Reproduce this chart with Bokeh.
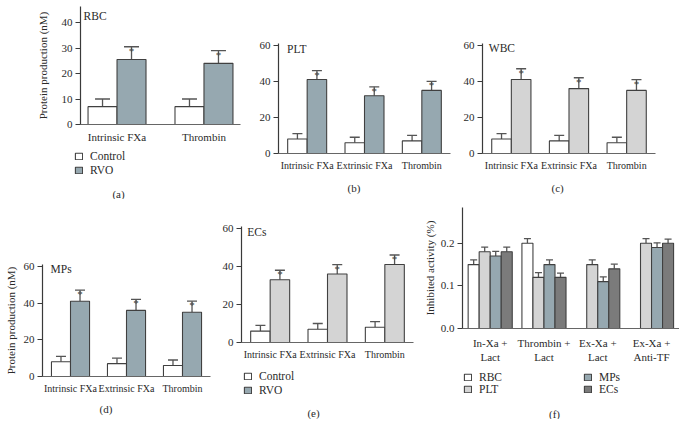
from bokeh.plotting import figure
from bokeh.models import (ColumnDataSource, Whisker, TeeHead, Label, Legend, Title,
                          LegendItem, FixedTicker, NumeralTickFormatter, Range1d)
from bokeh.layouts import column, row
from bokeh.embed import file_html
from bokeh.resources import INLINE
from bokeh.core.properties import value

# ---------------- data ----------------
cats_a = ["Intrinsic FXa", "Thrombin"]
cats3 = ["Intrinsic FXa", "Extrinsic FXa", "Thrombin"]

rbc_ctrl = [7, 7]
rbc_ctrl_err = [3, 3]
rbc_rvo = [25.5, 24]
rbc_rvo_err = [5, 5]

plt_ctrl = [8, 6, 7]
plt_ctrl_err = [3, 3, 3]
plt_rvo = [41, 32, 35]
plt_rvo_err = [5, 5, 5]

wbc_ctrl = [8, 7, 6]
wbc_ctrl_err = [3, 3, 3]
wbc_rvo = [41, 36, 35]
wbc_rvo_err = [6, 6, 6]

mps_ctrl = [8, 7, 6]
mps_ctrl_err = [3, 3, 3]
mps_rvo = [41, 36, 35]
mps_rvo_err = [6, 6, 6]

ecs_ctrl = [6, 7, 8]
ecs_ctrl_err = [3, 3, 3]
ecs_rvo = [33, 36, 41]
ecs_rvo_err = [5, 5, 5]

f_cats = ["In-Xa +\nLact", "Thrombin +\nLact", "Ex-Xa +\nLact", "Ex-Xa +\nAnti-TF"]
f_series = ["RBC", "PLT", "MPs", "ECs"]
f_rbc = [0.15, 0.20, None, None]
f_plt = [0.18, 0.12, 0.15, 0.20]
f_mps = [0.17, 0.15, 0.11, 0.19]
f_ecs = [0.18, 0.12, 0.14, 0.20]
f_rbc_err = [0.011, 0.011, None, None]
f_plt_err = [0.011, 0.011, 0.011, 0.011]
f_mps_err = [0.011, 0.011, 0.011, 0.011]
f_ecs_err = [0.011, 0.010, 0.011, 0.010]

ticks_a = [0, 10, 20, 30, 40]
ticks_60 = [0, 20, 40, 60]
ticks_f = [0.0, 0.1, 0.2]

# ---------------- style ----------------
FONT = "Liberation Serif"
TXT = "#2a2a2a"
WHITE = "#ffffff"
BLUEGRAY = "#96a8b0"
LIGHTGRAY = "#d4d4d4"
DARKGRAY = "#7b7b7b"
OUTLINE = "#404040"
ERRC = "#555555"
NAN = float("nan")


def make_fig(w, h, mb, xr, yr, cat_size="10px"):
    p = figure(width=w, height=h, title=None, x_range=Range1d(*xr), y_range=Range1d(*yr),
               output_backend="svg", toolbar_location=None,
               min_border_left=mb[0], min_border_right=mb[1],
               min_border_top=mb[2], min_border_bottom=mb[3])
    p.outline_line_color = None
    p.grid.visible = False
    for ax in (p.xaxis, p.yaxis):
        ax.axis_line_color = "#3a3a3a"
        ax.axis_line_width = 1.2
        ax.major_tick_line_color = "#3a3a3a"
        ax.major_tick_line_width = 1.1
        ax.minor_tick_out = 0
        ax.minor_tick_in = 0
        ax.major_tick_in = 0
        ax.major_label_text_font = FONT
        ax.major_label_text_color = TXT
        ax.axis_label_text_font = FONT
        ax.axis_label_text_font_style = "normal"
        ax.axis_label_text_color = TXT
        ax.axis_label_text_font_size = "11px"
    p.yaxis.major_tick_out = 5
    p.yaxis.major_label_standoff = 3
    p.yaxis.major_label_text_font_size = "11px"
    p.xaxis.major_tick_out = 0
    p.xaxis.major_label_standoff = 6
    p.xaxis.major_label_text_font_size = cat_size
    p.xaxis.axis_line_color = "#666666"
    return p


def key_fig(w, h, left, top):
    # small axis-free figure that carries a legend and the panel letter
    p = figure(width=w, height=h, title=None, x_axis_location=None, y_axis_location=None,
               x_range=Range1d(0, w - left), y_range=Range1d(0, h - top),
               output_backend="svg", toolbar_location=None,
               min_border_left=left, min_border_right=0, min_border_top=top, min_border_bottom=0)
    p.outline_line_color = None
    p.xgrid.visible = False
    p.ygrid.visible = False
    p.grid.grid_line_color = None
    return p


def set_cats(p, cats):
    p.xaxis.ticker = FixedTicker(ticks=list(range(len(cats))))
    p.xaxis.major_label_overrides = {i: c for i, c in enumerate(cats)}


def bars(p, xs, vals, errs, w, color, cap, star=False):
    pts = [(x, v, e) for x, v, e in zip(xs, vals, errs) if v is not None]
    src = ColumnDataSource(dict(x=[a for a, _, _ in pts], top=[b for _, b, _ in pts],
                                upper=[b + c for _, b, c in pts]))
    r = p.vbar(x="x", top="top", bottom=0, width=w, source=src,
               fill_color=color, line_color=OUTLINE, line_width=1.1)
    p.add_layout(Whisker(source=src, base="x", upper="upper", lower="top",
                         dimension="height", line_color=ERRC, line_width=1.3,
                         upper_head=TeeHead(size=cap, line_color=ERRC, line_width=1.3),
                         lower_head=None))
    if star:
        p.text(x="x", y="upper", text=value("*"), source=src, text_font=value(FONT),
               text_font_size="11px", text_color="#444444", text_align="center",
               text_baseline="alphabetic", y_offset=4)
    return r


def key_legend(k, entries, sp, nrows=None, label_width=20):
    items = []
    for label, col in entries:
        # legend-only renderer: one undrawable (NaN) bar so the key swatch gets its colours
        r = k.vbar(x=[NAN], top=[NAN], width=1, fill_color=col, line_color=OUTLINE, line_width=1.1)
        items.append(LegendItem(label=label, renderers=[r]))
    kw = dict(nrows=nrows) if nrows else {}
    lg = Legend(items=items, location="top_left", orientation="vertical",
                glyph_width=9, glyph_height=8, label_standoff=7, spacing=sp, padding=0,
                margin=0, border_line_color=None, background_fill_alpha=0,
                label_text_font=FONT, label_text_font_size="11.5px", label_text_color=TXT,
                label_height=12, label_width=label_width, label_text_baseline="middle", **kw)
    k.add_layout(lg)


def key_tag(k, text, x, y):
    k.add_layout(Label(x=x, y=y, text=text, text_font=FONT, text_font_size="11px",
                       text_color=TXT, text_align="center", text_baseline="middle"))


def panel_tag(p, text, offset, standoff):
    p.add_layout(Title(text=text, align="left", offset=offset, standoff=standoff,
                       text_font=FONT, text_font_size="11px", text_font_style="normal",
                       text_color=TXT), "below")


def inner_tag(p, text, x, y):
    p.add_layout(Label(x=x, y=y, text=text, text_font=FONT, text_font_size="11.5px",
                       text_color=TXT, text_align="left", text_baseline="middle"))


def two_series(p, cats, ctrl, ctrl_err, rvo, rvo_err, w, rvo_color, cap):
    idx = list(range(len(cats)))
    r1 = bars(p, [i - w / 2 for i in idx], ctrl, ctrl_err, w, WHITE, cap)
    r2 = bars(p, [i + w / 2 for i in idx], rvo, rvo_err, w, rvo_color, cap, star=True)
    set_cats(p, cats)
    return r1, r2


# ---------------- (a) RBC ----------------
pa = make_fig(250, 146, (80, 10, 6, 22), (-0.42, 1.42), (0, 46.3), cat_size="11px")
two_series(pa, cats_a, rbc_ctrl, rbc_ctrl_err, rbc_rvo, rbc_rvo_err, 1 / 3, BLUEGRAY, 15)
pa.yaxis.ticker = FixedTicker(ticks=ticks_a)
pa.yaxis.axis_label = "Protein production (nM)"
pa.yaxis.axis_label_standoff = 10
inner_tag(pa, "RBC", -0.385, 42.7)
ka = key_fig(250, 53, 74, 4)
key_legend(ka, [("Control", WHITE), ("RVO", BLUEGRAY)], 2)
key_tag(ka, "(a)", 44, 6)

# ---------------- (b) PLT ----------------
pb = make_fig(210, 199, (28, 10, 43, 41), (-0.5, 2.5), (0, 61))
two_series(pb, cats3, plt_ctrl, plt_ctrl_err, plt_rvo, plt_rvo_err, 0.34, BLUEGRAY, 10)
pb.yaxis.ticker = FixedTicker(ticks=ticks_60)
panel_tag(pb, "(b)", 69, 12)
inner_tag(pb, "PLT", -0.35, 58)

# ---------------- (c) WBC ----------------
pc = make_fig(219, 199, (22, 24, 43, 41), (-0.5, 2.5), (0, 61))
two_series(pc, cats3, wbc_ctrl, wbc_ctrl_err, wbc_rvo, wbc_rvo_err, 0.34, LIGHTGRAY, 10)
pc.yaxis.ticker = FixedTicker(ticks=ticks_60)
panel_tag(pc, "(c)", 69, 12)
inner_tag(pc, "WBC", -0.39, 58.3)

# ---------------- (d) MPs ----------------
pd_ = make_fig(218, 220, (42, 8, 65, 40), (-0.5, 2.5), (0, 61))
two_series(pd_, cats3, mps_ctrl, mps_ctrl_err, mps_rvo, mps_rvo_err, 0.34, BLUEGRAY, 10)
pd_.yaxis.ticker = FixedTicker(ticks=ticks_60)
pd_.yaxis.axis_label = "Protein production (nM)"
pd_.yaxis.axis_label_standoff = 4
panel_tag(pd_, "(d)", 57, 9)
inner_tag(pd_, "MPs", -0.357, 58.5)

# ---------------- (e) ECs ----------------
pe = make_fig(202, 164, (23, 7, 27, 21), (-0.5, 2.5), (0, 61))
two_series(pe, cats3, ecs_ctrl, ecs_ctrl_err, ecs_rvo, ecs_rvo_err, 0.34, LIGHTGRAY, 10)
pe.yaxis.ticker = FixedTicker(ticks=ticks_60)
inner_tag(pe, "ECs", -0.4, 58)
ke = key_fig(202, 56, 25, 7)
key_legend(ke, [("Control", WHITE), ("RVO", BLUEGRAY)], 2)
key_tag(ke, "(e)", 70, 7)

# ---------------- (f) inhibited activity ----------------
pf = make_fig(259, 166, (40, 0, 8, 35), (-0.515, 3.52), (0, 0.284))
fw = 0.205
f_vals = [f_rbc, f_plt, f_mps, f_ecs]
f_errs = [f_rbc_err, f_plt_err, f_mps_err, f_ecs_err]
f_cols = [WHITE, LIGHTGRAY, BLUEGRAY, DARKGRAY]
for k, (vals, errs, col) in enumerate(zip(f_vals, f_errs, f_cols)):
    xs = [i + (k - 1.5) * fw for i in range(len(f_cats))]
    bars(pf, xs, vals, errs, fw, col, 7)
set_cats(pf, f_cats)
pf.xaxis.major_label_text_font_size = "11px"
pf.xaxis.major_label_standoff = 8
pf.yaxis.ticker = FixedTicker(ticks=ticks_f)
pf.yaxis.formatter = NumeralTickFormatter(format="0.0")
pf.yaxis.axis_label = "Inhibited activity (%)"
pf.yaxis.axis_label_standoff = 2
kf = key_fig(259, 54, 43, 6)
key_legend(kf, list(zip(f_series, f_cols)), 0, nrows=2, label_width=104)
key_tag(kf, "(f)", 91, 6)

layout = column(
    row(column(column(pa), column(ka)), column(pb), column(pc)),
    row(column(pd_), column(column(pe), column(ke)), column(column(pf), column(kf))),
)
open("out.html", "w").write(file_html(layout, INLINE))
